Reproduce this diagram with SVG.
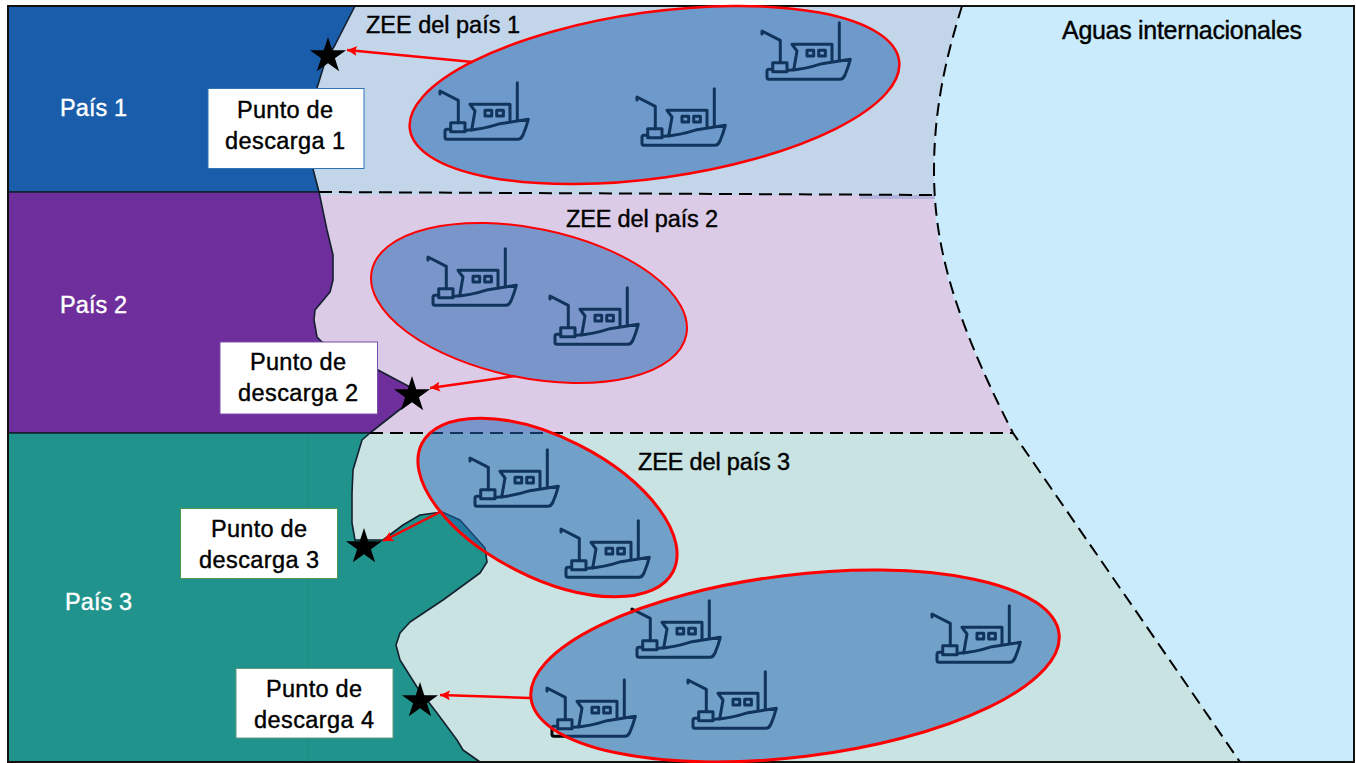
<svg xmlns="http://www.w3.org/2000/svg" xmlns:xlink="http://www.w3.org/1999/xlink" width="1356" height="763" viewBox="0 0 1356 763">
<style>
text{font-family:"Liberation Sans",Arial,sans-serif;font-size:23.5px;fill:#000;stroke:#000;stroke-width:.4}
.w{fill:#fff;stroke:#fff}
.m{text-anchor:middle}
.land{stroke:#14202e;stroke-width:1.6;stroke-linejoin:round}
.dash{fill:none;stroke:#000;stroke-width:2;stroke-dasharray:13 7}
.boat{fill:none;stroke:#000;stroke-width:3;stroke-linejoin:round;stroke-linecap:round}
.school{fill:#2163b0;fill-opacity:.52;stroke:#f00}
.arrow{fill:none;stroke:#f00;stroke-width:2.5;marker-end:url(#head)}
.box{fill:#fff;stroke-width:1}
</style>
<defs>
<marker id="head" markerUnits="userSpaceOnUse" markerWidth="11" markerHeight="10" refX="10" refY="5" orient="auto"><path d="M0 0L10 5L0 10L2 5Z" fill="#f00"/></marker>
<g id="b" class="boat">
<path d="M10 13V10L28.300 19.300V41.700"/>
<rect x="20.700" y="41.700" width="14.300" height="9"/>
<path d="M20.700 48.300H17Q15 48.300 15 50.300V56.300Q15 58.300 17 58.300H88Q91 58.300 93 54Q96 47 98.300 38.300L70 42.700Q53 48.300 36.700 49.300"/>
<path d="M41.700 49L45 30L40 23.300H80V39.300"/>
<rect x="55" y="29.300" width="6.700" height="5.700"/>
<rect x="66.700" y="29.300" width="6.700" height="5.700"/>
<path d="M87.300 1.700V38.300"/>
</g>
<polygon id="s" points="0,-19 4.270,-5.870 18.070,-5.870 6.900,2.240 11.170,15.370 0,7.260 -11.170,15.370 -6.900,2.240 -18.070,-5.870 -4.270,-5.870"/>
</defs>
<rect id="frame-sea" x="8" y="6" width="1346" height="756" fill="#c9ebfc"/>
<g id="zonas">
<path id="zee-1" d="M200 6H962C950 45 934 100 934 170V195H200Z" fill="#c3d5e8"/>
<path id="zee-2" d="M200 195H934C936 250 950 310 1013 433H200Z" fill="#dccbe6"/>
<path id="zee-3" d="M200 433H1013L1240 762H200Z" fill="#c8e3e2"/>
<rect x="860" y="195" width="75" height="4" fill="#b3b3dc"/>
</g>
<g id="paises">
<path id="pais-1" class="land" d="M8 6H355L335 45L325 62L317 88L313 169L319 192H8Z" fill="#1a5dab"/>
<path id="pais-2" class="land" d="M8 192H319L327 230L333 255V280L330 292L315 310L314 320L317 337L322 342L378 370L410 387L403 407L370 433H8Z" fill="#6e2e9c"/>
<path id="pais-3" class="land" d="M8 433H370L362 440L353 470L352 493V523L355 540H383L403 525L420 515L442 512L460 520L485 548L487 562L480 573L443 600L410 622L400 633L396 645L400 660L417 687L437 713L457 740L463 750L480 762H8Z" fill="#20938c"/>
<path d="M308 434V762" stroke="#1f8a80" stroke-width="1" fill="none"/>
</g>
<g id="limites">
<path class="dash" d="M319 192L934 195"/>
<path class="dash" d="M370 433H1013"/>
<path class="dash" d="M962 6C950 45 934 100 934 170C934 240 950 310 1013 433L1240 762"/>
</g>
<path id="marco" d="M8 6H1354V762H8Z" fill="none" stroke="#111" stroke-width="2"/>
<g id="barcos">
<use id="barco-1" xlink:href="#b" href="#b" transform="translate(430 81)"/>
<use id="barco-2" xlink:href="#b" href="#b" transform="translate(627 87)"/>
<use id="barco-3" xlink:href="#b" href="#b" transform="translate(752 21)"/>
<use id="barco-4" xlink:href="#b" href="#b" transform="translate(418 247)"/>
<use id="barco-5" xlink:href="#b" href="#b" transform="translate(540 286)"/>
<use id="barco-6" xlink:href="#b" href="#b" transform="translate(460 448)"/>
<use id="barco-7" xlink:href="#b" href="#b" transform="translate(551 519)"/>
<use id="barco-8" xlink:href="#b" href="#b" transform="translate(622 599)"/>
<use id="barco-9" xlink:href="#b" href="#b" transform="translate(922 604)"/>
<use id="barco-10" xlink:href="#b" href="#b" transform="translate(678 670)"/>
<use id="barco-11" xlink:href="#b" href="#b" transform="translate(537 678)"/>
</g>
<g id="flotas">
<ellipse id="flota-1" class="school" cx="654.500" cy="95" rx="247" ry="83" transform="rotate(-8 654.500 95)" stroke-width="2.500"/>
<ellipse id="flota-2" class="school" cx="529" cy="303" rx="160.500" ry="74.800" transform="rotate(11.500 529 303)" stroke-width="2"/>
<ellipse id="flota-3" class="school" cx="547.500" cy="507.500" rx="141" ry="70" transform="rotate(27 547.500 507.500)" stroke-width="3"/>
<ellipse id="flota-4" class="school" cx="795" cy="666" rx="266" ry="91" transform="rotate(-7 795 666)" stroke-width="3"/>
</g>
<g id="connectors">
<path class="arrow" d="M473 62L347 50"/>
<path class="arrow" d="M515 376L430 388"/>
<path class="arrow" d="M440 512L383 541"/>
<path class="arrow" d="M530 698L440 695"/>
</g>
<g id="puntos">
<use id="estrella-1" xlink:href="#s" href="#s" transform="translate(328 56)"/>
<use id="estrella-2" xlink:href="#s" href="#s" transform="translate(412 395)"/>
<use id="estrella-3" xlink:href="#s" href="#s" transform="translate(364 547)"/>
<use id="estrella-4" xlink:href="#s" href="#s" transform="translate(420 701)"/>
</g>
<g id="etiqueta-1"><rect class="box" x="208" y="88.500" width="156" height="80" stroke="#2e75b6"/>
<text class="m" x="285" y="118" textLength="96">Punto de</text><text class="m" x="285" y="149" textLength="120">descarga 1</text></g>
<g id="etiqueta-2"><rect class="box" x="220" y="342" width="157.500" height="72" stroke="#7a4fa8"/>
<text class="m" x="298" y="370" textLength="96">Punto de</text><text class="m" x="298" y="401" textLength="120">descarga 2</text></g>
<g id="etiqueta-3"><rect class="box" x="180.500" y="508.500" width="157" height="70" stroke="#4f9a4f"/>
<text class="m" x="259" y="537" textLength="96">Punto de</text><text class="m" x="259" y="568" textLength="120">descarga 3</text></g>
<g id="etiqueta-4"><rect class="box" x="236" y="668.500" width="157" height="69.500" stroke="#5f9a80"/>
<text class="m" x="314" y="697" textLength="96">Punto de</text><text class="m" x="314" y="728" textLength="120">descarga 4</text></g>
<g id="textos">
<text class="w" x="60" y="116" textLength="67">País 1</text>
<text class="w" x="60" y="313" textLength="67">País 2</text>
<text class="w" x="65" y="610" textLength="67">País 3</text>
<text x="366" y="33" textLength="154">ZEE del país 1</text>
<text x="566" y="227" textLength="152">ZEE del país 2</text>
<text x="638" y="470" textLength="152">ZEE del país 3</text>
<text x="1062" y="39" textLength="240" style="font-size:25px">Aguas internacionales</text>
</g>
</svg>
